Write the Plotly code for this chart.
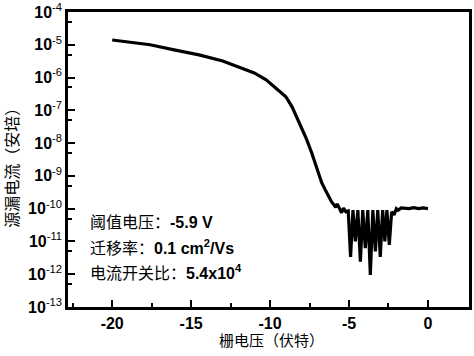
import plotly.graph_objects as go

# Gate voltage (V) and source-drain current (A)
gate_v = [-20.0, -19.0, -18.0, -17.6, -16.0, -15.0, -14.5, -13.0, -12.0, -11.0,
          -10.25, -9.5, -9.0, -8.6, -8.0, -7.7, -7.36, -7.0, -6.73, -6.5,
          -6.29, -6.1, -5.95, -5.85, -5.75, -5.6, -5.47, -5.35, -5.2,
          -5.05, -4.9, -4.75, -4.6, -4.44, -4.28, -4.13, -3.97, -3.81, -3.65,
          -3.49, -3.33, -3.18, -3.02, -2.87, -2.73, -2.6, -2.45, -2.3, -2.15,
          -2.0, -1.89, -1.7, -1.45, -1.2, -0.9, -0.6, -0.3, 0.0]
drain_i = [1.4e-5, 1.23e-5, 1.05e-5, 1.0e-5, 6.9e-6, 5.6e-6, 4.9e-6, 3.2e-6, 2.1e-6, 1.38e-6,
           8.5e-7, 4.2e-7, 2.6e-7, 1.26e-7, 3.1e-8, 1.35e-8, 5.0e-9, 1.5e-9, 6.2e-10, 3.7e-10,
           2.3e-10, 1.6e-10, 1.3e-10, 1.1e-10, 1.4e-10, 1.0e-10, 0.75e-10, 1.05e-10, 0.8e-10,
           0.85e-10, 3.4e-12, 0.9e-10, 1.0e-11, 0.9e-10, 2.4e-12, 0.9e-10, 6.3e-12, 0.9e-10, 9.5e-13,
           0.9e-10, 5.0e-12, 0.9e-10, 3.4e-12, 0.9e-10, 1.0e-11, 0.9e-10, 7.9e-12, 0.8e-10, 0.65e-10,
           1.0e-10, 0.9e-10, 1.05e-10, 1.05e-10, 1.0e-10, 1.07e-10, 1.0e-10, 1.05e-10, 1.0e-10]

x_ticks = [-20, -15, -10, -5, 0]
x_minor = [-22.5, -17.5, -12.5, -7.5, -2.5]
y_exps = [-4, -5, -6, -7, -8, -9, -10, -11, -12, -13]
y_ticks = [10.0 ** e for e in y_exps]
y_ticktext = ["<b>10</b><sup>%d</sup>" % e for e in y_exps]
y_minor = [5 * 10.0 ** e for e in y_exps[1:]]

x_title = "栅电压（伏特）"
y_title = "源漏电流（安培）"
notes = ["阈值电压：<b>-5.9 V</b>",
         "迁移率：<b>0.1 cm<sup>2</sup>/Vs</b>",
         "电流开关比：<b>5.4x10<sup>4</sup></b>"]
note_y = [0.288, 0.205, 0.12]

cjk = "Liberation Sans, Arial, Noto Sans CJK SC"

fig = go.Figure()
fig.add_trace(go.Scatter(x=gate_v, y=drain_i, mode="lines",
                         line=dict(color="black", width=3.2), showlegend=False))

axis_common = dict(showgrid=False, zeroline=False, showline=True, linecolor="black",
                   linewidth=2.5, mirror=True, ticks="inside", tickcolor="black",
                   tickwidth=2, ticklen=7, automargin=False)

fig.update_xaxes(range=[-22.8, 2.6], tickmode="array", tickvals=x_ticks,
                 ticktext=["<b>%d</b>" % v for v in x_ticks],
                 tickfont=dict(family=cjk, size=16, color="black"),
                 minor=dict(tickmode="array", tickvals=x_minor, ticks="inside",
                            ticklen=4, tickwidth=2, tickcolor="black"),
                 **axis_common)
fig.update_yaxes(type="log", range=[-13, -4], tickmode="array", tickvals=y_ticks,
                 ticktext=y_ticktext,
                 tickfont=dict(family=cjk, size=16, color="black"),
                 minor=dict(tickmode="array", tickvals=y_minor, ticks="inside",
                            ticklen=4, tickwidth=2, tickcolor="black"),
                 **axis_common)

ann = []
for t, yy in zip(notes, note_y):
    ann.append(dict(text=t, xref="paper", yref="paper", x=0.05, y=yy,
                    xanchor="left", yanchor="middle", showarrow=False,
                    font=dict(family=cjk, size=16, color="black")))
ann.append(dict(text=x_title, xref="paper", yref="paper", x=(271 - 68) / 401,
                y=-33 / 295, xanchor="center", yanchor="middle", showarrow=False,
                font=dict(family=cjk, size=15, color="black")))
ann.append(dict(text=y_title, xref="paper", yref="paper", x=(13 - 68) / 401,
                y=0.486, xanchor="center", yanchor="middle", showarrow=False,
                textangle=-90, font=dict(family=cjk, size=16, color="black")))

fig.update_layout(width=474, height=356, margin=dict(l=68, r=5, t=12, b=49),
                  paper_bgcolor="white", plot_bgcolor="white", annotations=ann)

fig.write_html("out.html", config={"displayModeBar": False},
               post_script="document.body.style.margin='0';document.body.style.overflow='hidden';")
